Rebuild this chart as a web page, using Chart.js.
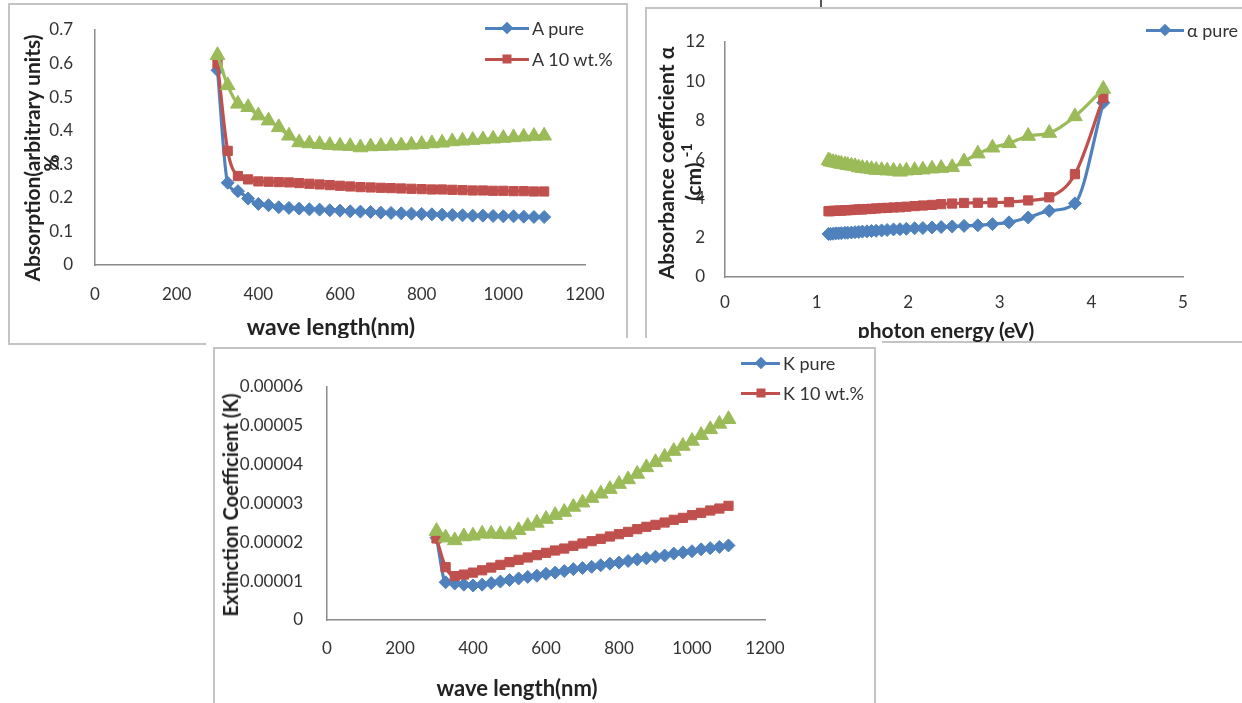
<!DOCTYPE html>
<html lang="en">
<head>
<meta charset="UTF-8">
<title>Absorption, absorbance coefficient and extinction coefficient</title>
<script src="https://cdn.jsdelivr.net/npm/chart.js"></script>
<style>
    * { margin: 0; padding: 0; box-sizing: border-box; }
    body {
        width: 1242px; height: 703px; overflow: hidden; position: relative;
        background: #fff; font-family: Lato, "Liberation Sans", sans-serif;
    }
    .frame { position: absolute; border: 2px solid #c4c4c4; }
    .cover { position: absolute; background: #fff; }
    .chart { position: absolute; }
    .legend { position: absolute; font-size: 18px; color: #333; }
    .legend .item { display: flex; align-items: center; height: 30px; white-space: nowrap; }
    .legend .key { position: relative; height: 12px; margin-right: 3px; }
    .key .ln { position: absolute; left: 0; right: 0; top: 5px; height: 3px; }
    .key .mk { position: absolute; left: 50%; top: 6px; width: 9px; height: 9px; }
    .diamond { transform: translate(-50%, -50%) rotate(45deg); }
    .square { transform: translate(-50%, -50%); }
    /* axis titles, placed by their centre */
    .title { position: absolute; white-space: nowrap; font-weight: bold; color: #222; line-height: 1; }
    .xt { transform: translate(-50%, -50%); }
    .yt { transform: translate(-50%, -50%) rotate(-90deg); }
    .yt sup { font-size: 0.7em; position: relative; top: -0.1em; }
</style>
</head>
<body>
    <!-- panel frames, the bottom panel sits on top of the other two -->
    <div class="frame" style="left:8px; top:3px; width:620px; height:342px;"></div>
    <div class="frame" style="left:645px; top:7px; width:700px; height:336px;"></div>
    <div style="position:absolute; left:820px; top:0; width:2px; height:7px; background:#555;"></div>

    <div class="chart" style="left:8px; top:3px; width:620px; height:342px;"><canvas id="absChart"></canvas></div>
    <div class="chart" style="left:645px; top:7px; width:620px; height:336px;"><canvas id="alphaChart"></canvas></div>

    <div class="title yt" style="left:31px; top:158px; font-size:21px;">Absorption(arbitrary units)</div>
    <div class="title yt" style="left:50px; top:163px; font-size:21px;">%</div>
    <div class="title xt" style="left:331px; top:326px; font-size:23px;">wave length(nm)</div>

    <div class="title yt" style="left:665px; top:163px; font-size:21px;">Absorbance coefficient α</div>
    <div class="title yt" style="left:691px; top:172px; font-size:21px;">(cm) <sup>-1</sup></div>
    <div class="title xt" style="left:946px; top:329px; font-size:21px;">photon energy (eV)</div>

    <div class="legend" style="left:485px; top:12px;">
        <div class="item" style="height:31px;"><span class="key" style="width:44px;"><span class="ln" style="background:#4F81BD"></span><span class="mk diamond" style="background:#4F81BD"></span></span>A pure</div>
        <div class="item" style="height:31px;"><span class="key" style="width:44px;"><span class="ln" style="background:#C0504D"></span><span class="mk square" style="background:#C0504D"></span></span>A 10 wt.%</div>
    </div>
    <div class="legend" style="left:1146px; top:15px;">
        <div class="item"><span class="key" style="width:38px;"><span class="ln" style="background:#4F81BD"></span><span class="mk diamond" style="background:#4F81BD"></span></span>α pure</div>
    </div>

    <div class="cover" style="left:206px; top:338px; width:676px; height:400px;"></div>
    <div class="frame" style="left:213px; top:347px; width:663px; height:400px;"></div>
    <div class="chart" style="left:213px; top:347px; width:663px; height:360px;"><canvas id="kChart"></canvas></div>
    <div class="title yt" style="left:230px; top:505px; font-size:20px;">Extinction Coefficient (K)</div>
    <div class="title xt" style="left:517px; top:688px; font-size:22px;">wave length(nm)</div>
    <div class="legend" style="left:741px; top:348px;">
        <div class="item"><span class="key" style="width:39px;"><span class="ln" style="background:#4F81BD"></span><span class="mk diamond" style="background:#4F81BD"></span></span>K pure</div>
        <div class="item"><span class="key" style="width:39px;"><span class="ln" style="background:#C0504D"></span><span class="mk square" style="background:#C0504D"></span></span>K 10 wt.%</div>
    </div>

<script>
// wavelength (nm) used by the absorption and extinction charts
const wavelength = [300, 325, 350, 375, 400, 425, 450, 475, 500, 525, 550, 575, 600, 625, 650, 675, 700,
    725, 750, 775, 800, 825, 850, 875, 900, 925, 950, 975, 1000, 1025, 1050, 1075, 1100];

// absorption (arbitrary units)
const absPure = [0.58, 0.245, 0.22, 0.198, 0.182, 0.178, 0.172, 0.17, 0.168, 0.166, 0.165, 0.163, 0.162, 0.16, 0.159, 0.158, 0.156,
    0.155, 0.154, 0.153, 0.152, 0.151, 0.15, 0.149, 0.148, 0.147, 0.147, 0.146, 0.145, 0.145, 0.144, 0.143, 0.143];
const abs10 = [0.60, 0.34, 0.265, 0.255, 0.249, 0.248, 0.247, 0.246, 0.244, 0.242, 0.24, 0.238, 0.236, 0.234, 0.232, 0.231, 0.23,
    0.229, 0.228, 0.227, 0.226, 0.225, 0.225, 0.224, 0.223, 0.222, 0.222, 0.221, 0.221, 0.22, 0.22, 0.219, 0.219];
const absThird = [0.625, 0.535, 0.48, 0.47, 0.445, 0.43, 0.41, 0.385, 0.365, 0.362, 0.36, 0.357, 0.355, 0.354, 0.35, 0.353, 0.354,
    0.355, 0.356, 0.358, 0.36, 0.362, 0.364, 0.368, 0.37, 0.372, 0.374, 0.376, 0.378, 0.38, 0.382, 0.384, 0.385];

// photon energy (eV) and absorbance coefficient
const energy = [4.13, 3.82, 3.54, 3.31, 3.10, 2.92, 2.76, 2.61, 2.48, 2.36, 2.26, 2.16, 2.07, 1.98, 1.91, 1.84, 1.77,
    1.71, 1.65, 1.60, 1.55, 1.50, 1.46, 1.42, 1.38, 1.34, 1.31, 1.27, 1.24, 1.21, 1.18, 1.15, 1.13];
const alphaPure = [8.9, 3.76, 3.38, 3.04, 2.79, 2.7, 2.64, 2.61, 2.58, 2.55, 2.53, 2.5, 2.49, 2.46, 2.44, 2.43, 2.4,
    2.38, 2.36, 2.35, 2.33, 2.32, 2.3, 2.29, 2.27, 2.26, 2.26, 2.24, 2.23, 2.23, 2.21, 2.2, 2.2];
const alpha10 = [9.15, 5.25, 4.07, 3.91, 3.82, 3.8, 3.79, 3.78, 3.75, 3.72, 3.68, 3.65, 3.62, 3.59, 3.56, 3.55, 3.53,
    3.52, 3.5, 3.48, 3.47, 3.45, 3.45, 3.44, 3.42, 3.41, 3.41, 3.39, 3.39, 3.38, 3.38, 3.36, 3.36];
const alphaThird = [9.6, 8.2, 7.35, 7.2, 6.83, 6.6, 6.3, 5.9, 5.6, 5.56, 5.53, 5.48, 5.45, 5.43, 5.37, 5.42, 5.43,
    5.45, 5.46, 5.5, 5.53, 5.56, 5.59, 5.65, 5.68, 5.71, 5.74, 5.77, 5.8, 5.83, 5.86, 5.89, 5.95];

// extinction coefficient K
const kPure = [2.12e-5, 0.97e-5, 0.94e-5, 0.91e-5, 0.89e-5, 0.91e-5, 0.95e-5, 0.99e-5, 1.03e-5, 1.07e-5, 1.11e-5, 1.14e-5, 1.19e-5,
    1.22e-5, 1.26e-5, 1.31e-5, 1.34e-5, 1.37e-5, 1.41e-5, 1.45e-5, 1.48e-5, 1.52e-5, 1.56e-5, 1.59e-5, 1.63e-5, 1.66e-5,
    1.71e-5, 1.74e-5, 1.77e-5, 1.82e-5, 1.85e-5, 1.88e-5, 1.92e-5];
const k10 = [2.1e-5, 1.36e-5, 1.13e-5, 1.17e-5, 1.22e-5, 1.28e-5, 1.35e-5, 1.42e-5, 1.49e-5, 1.55e-5, 1.61e-5, 1.67e-5, 1.73e-5,
    1.79e-5, 1.84e-5, 1.91e-5, 1.97e-5, 2.03e-5, 2.09e-5, 2.15e-5, 2.21e-5, 2.27e-5, 2.34e-5, 2.4e-5, 2.45e-5, 2.51e-5,
    2.58e-5, 2.63e-5, 2.7e-5, 2.76e-5, 2.82e-5, 2.87e-5, 2.94e-5];
const kThird = [2.29e-5, 2.12e-5, 2.05e-5, 2.15e-5, 2.17e-5, 2.22e-5, 2.22e-5, 2.21e-5, 2.2e-5, 2.31e-5, 2.42e-5, 2.5e-5, 2.6e-5,
    2.7e-5, 2.78e-5, 2.91e-5, 3.02e-5, 3.14e-5, 3.25e-5, 3.37e-5, 3.5e-5, 3.62e-5, 3.76e-5, 3.93e-5, 4.06e-5, 4.2e-5,
    4.35e-5, 4.48e-5, 4.61e-5, 4.76e-5, 4.91e-5, 5.05e-5, 5.17e-5];

const BLUE = '#4F81BD', RED = '#C0504D', GREEN = '#9BBB59';
const FONT = 'Lato, "Liberation Sans", sans-serif';

// one line series with Excel style markers
function series(label, xs, ys, color, shape, r, order) {
    return {
        label: label,
        data: xs.map((x, i) => ({ x: x, y: ys[i] })),
        borderColor: color, backgroundColor: color,
        pointBackgroundColor: color, pointBorderColor: color,
        pointStyle: shape, pointRadius: r, pointHoverRadius: r, pointBorderWidth: 1,
        borderWidth: 3.2, cubicInterpolationMode: 'monotone', order: order
    };
}

function threeSeries(names, xs, a, b, c) {
    return [
        series(names[0], xs, a, BLUE, 'rectRot', 6.5, 2),
        series(names[1], xs, b, RED, 'rect', 6.5, 1),
        series(names[2], xs, c, GREEN, 'triangle', 8.5, 0)
    ];
}

// axis options; size fixes the axis box so the plot area lands where it should
function axis(min, max, step, size, tickPad, fmt, isY) {
    return {
        type: 'linear', min: min, max: max,
        grid: { display: false },
        border: { display: true, color: '#8a8a8a', width: 1.5 },
        ticks: { stepSize: step, padding: tickPad, color: '#333', font: { family: FONT, size: 17 }, callback: fmt },
        afterFit: s => { if (isY) s.width = size; else s.height = size; }
    };
}

function makeChart(id, datasets, xAxis, yAxis, pad) {
    return new Chart(document.getElementById(id), {
        type: 'line',
        data: { datasets: datasets },
        options: {
            responsive: true, maintainAspectRatio: false, animation: false,
            layout: { padding: pad },
            plugins: { legend: { display: false }, tooltip: { enabled: false } },
            scales: { x: xAxis, y: yAxis }
        }
    });
}

const plain = v => String(v);

makeChart('absChart',
    threeSeries(['A pure', 'A 10 wt.%', 'A'], wavelength, absPure, abs10, absThird),
    axis(0, 1200, 200, 80, 11, plain, false),
    axis(0, 0.7, 0.1, 87, 14, v => v === 0 ? '0' : v.toFixed(1), true),
    { top: 27, right: 43, left: 0, bottom: 0 });

makeChart('alphaChart',
    threeSeries(['α pure', 'α 10 wt.%', 'α'], energy, alphaPure, alpha10, alphaThird),
    axis(0, 5, 1, 66, 7, plain, false),
    axis(0, 12, 2, 80, 12, plain, true),
    { top: 35, right: 82, left: 0, bottom: 0 });

makeChart('kChart',
    threeSeries(['K pure', 'K 10 wt.%', 'K'], wavelength, kPure, k10, kThird),
    axis(0, 1200, 200, 87, 10, plain, false),
    axis(0, 0.00006, 0.00001, 114, 16, v => v === 0 ? '0' : v.toFixed(5), true),
    { top: 40, right: 111, left: 0, bottom: 0 });
</script>
</body>
</html>
